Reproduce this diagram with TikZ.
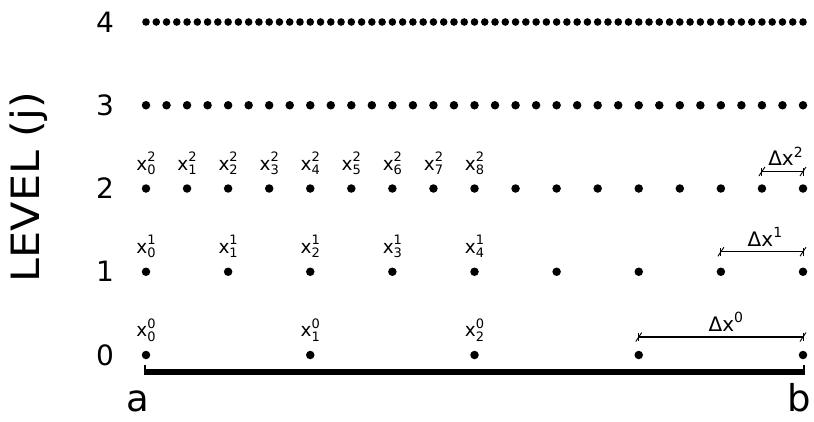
\documentclass[tikz,border=0pt]{standalone}
\usepackage{fontspec}
\setmainfont{DejaVu Sans}
\usetikzlibrary{calc}
\newcommand\xsc[2]{x\makebox[0pt][l]{\raisebox{-4.5pt}{\fontsize{13}{13}\selectfont#1}}\raisebox{8.5pt}{\fontsize{13}{13}\selectfont#2}}
\newcommand\dsc[1]{Δx\raisebox{8.5pt}{\fontsize{14}{14}\selectfont#1}}
\begin{document}
\begin{tikzpicture}[x=1pt,y=-1pt,
  dot/.style={circle,fill=black,inner sep=0pt,minimum size=8.5pt},
  smalldot/.style={circle,fill=black,inner sep=0pt,minimum size=7.6pt},
  xlab/.style={inner sep=0pt,font=\fontsize{18.5}{18.5}\selectfont},
  dlab/.style={inner sep=0pt,font=\fontsize{20}{20}\selectfont},
  lvl/.style={inner sep=0pt,font=\fontsize{28}{28}\selectfont},
  big/.style={inner sep=0pt,font=\fontsize{39}{39}\selectfont},
  ends/.style={inner sep=0pt,font=\fontsize{37}{37}\selectfont},
  dimline/.style={line width=1.2pt},
  axis/.style={line width=5.5pt,line cap=butt},
  axtick/.style={line width=2pt}]
\useasboundingbox (0,0) rectangle (814,421);
% dots per level
\foreach \j/\n in {0/4,1/8,2/16,3/32} {
  \foreach \i in {0,...,\n} {
    \node[dot] (d\j-\i) at ({146+(657/\n)*\i},{355-83.25*\j}) {};
  }
}
\foreach \i in {0,...,64} {
  \node[smalldot] (d4-\i) at ({146+(657/64)*\i},22) {};
}
% level numbers
\foreach \j in {0,...,4} {
  \node[lvl] (n\j) at (105,{355-83.25*\j}) {\j};
}
% point labels
\foreach \i in {0,...,8} {\node[xlab] (l2-\i) at ([yshift=25pt]d2-\i.center) {\xsc{\i}{2}};}
\foreach \i in {0,...,4} {\node[xlab] (l1-\i) at ([yshift=25pt]d1-\i.center) {\xsc{\i}{1}};}
\foreach \i in {0,...,2} {\node[xlab] (l0-\i) at ([yshift=25pt]d0-\i.center) {\xsc{\i}{0}};}
% dimension lines
\coordinate (p2a) at ([yshift=17pt]d2-15.center);
\coordinate (p2b) at ([yshift=17pt]d2-16.center);
\coordinate (p1a) at ([yshift=20pt]d1-7.center);
\coordinate (p1b) at ([yshift=20pt]d1-8.center);
\coordinate (p0a) at ([yshift=18pt]d0-3.center);
\coordinate (p0b) at ([yshift=18pt]d0-4.center);
\foreach \k in {0,1,2} {
  \draw[dimline] (p\k a) -- (p\k b);
  \foreach \e in {a,b} {
    \draw[line width=0.9pt] ([yshift=-4pt]p\k\e) -- ([yshift=4pt]p\k\e);
    \draw[line width=0.9pt] ([xshift=-3pt,yshift=-4.5pt]p\k\e) -- ([xshift=3pt,yshift=4.5pt]p\k\e);
  }
}
\node[dlab] (D2) at ([xshift=3pt,yshift=15pt]$(p2a)!0.5!(p2b)$) {\dsc{2}};
\node[dlab] (D1) at ([xshift=3pt,yshift=15pt]$(p1a)!0.5!(p1b)$) {\dsc{1}};
\node[dlab] (D0) at ([xshift=5pt,yshift=15pt]$(p0a)!0.5!(p0b)$) {\dsc{0}};
% axis
\coordinate (A) at (144,372);
\coordinate (B) at (805,372);
\draw[axis] (A) -- (B);
\draw[axtick] ([xshift=1pt]A) -- ++(0,-7);
\draw[axtick] ([xshift=-1pt]B) -- ++(0,-7);
\node[ends,anchor=base] (la) at (138,411) {a};
\node[ends,anchor=base] (lb) at (799,411) {b};
\node[big,rotate=90] (lev) at (29,187) {\scalebox{1.1}[1]{LEVEL (j)}};
\end{tikzpicture}
\end{document}
